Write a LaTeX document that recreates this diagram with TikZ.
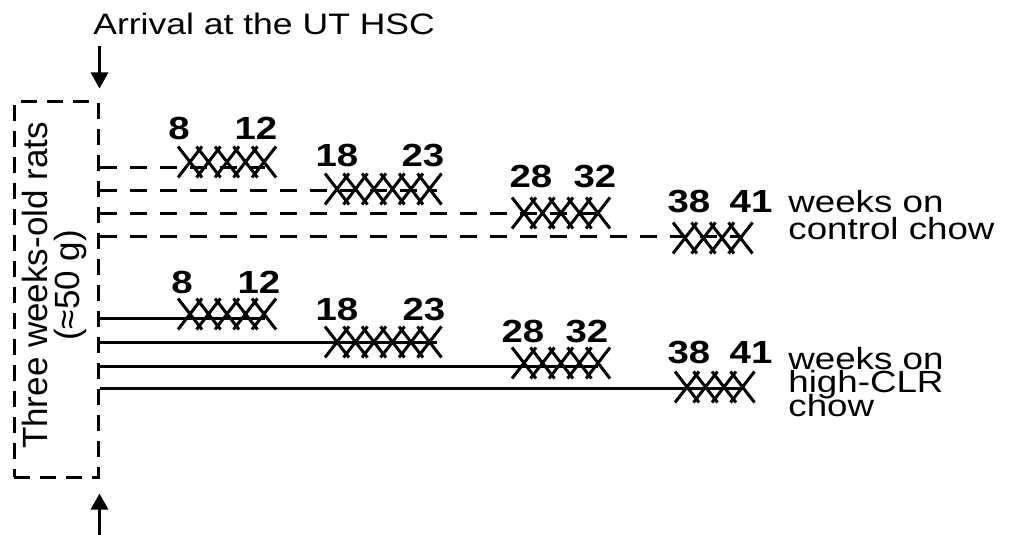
\documentclass[tikz,border=0pt]{standalone}
\usepackage{fontspec}
\setmainfont{Liberation Sans}
\newfontfamily\widesans[FakeStretch=1.2]{Liberation Sans}
\usetikzlibrary{positioning,arrows.meta,calc}
\newcommand\tightlines{\lineskiplimit=-20pt\relax}

\begin{document}
\begin{tikzpicture}[
    x=0.5pt, y=-0.5pt,
    arrival/.style={font=\widesans\fontsize{14.8}{16}\selectfont,
        anchor=base west, inner sep=0pt},
    ratsbox/.style={draw, line width=1.5pt, dash pattern=on 8pt off 5pt,
        minimum width=42pt, minimum height=187.5pt, inner sep=0pt},
    wk/.style={font=\widesans\bfseries\fontsize{16}{18}\selectfont,
        anchor=base, inner sep=0pt},
    diet/.style={font=\widesans\fontsize{15.3}{#1}\selectfont\tightlines,
        align=left, anchor=west, inner sep=0pt},
    diet/.default={13.5},
    arrow/.style={-{Triangle[length=8pt,width=8.5pt]}, line width=1.6pt},
    ctrl/.style={line width=1.5pt, dash pattern=on 8.5pt off 6.5pt},
    chlr/.style={line width=1.5pt},
    xmark/.style={line width=1.5pt}
]
\useasboundingbox (0,0) rectangle (1013,535);

% Arrival and the group of rats
\node[arrival] (arrival) at (93,35) {Arrival at the UT HSC};
\node[ratsbox] (rats) at (56,289.5) {};
\node[rotate=90, font=\fontsize{17.5}{16}\selectfont, align=center]
    (ratstext) at ([xshift=-1pt,yshift=2pt]rats.center)
    {Three weeks-old rats\\(≈50 g)};

% Arrows in and out
\coordinate (bottom) at (0,535);
\draw[arrow, shorten <=5pt, shorten >=6pt] (arrival.south west -| rats.north east)
    -- (rats.north east);
\draw[arrow, shorten >=7.5pt] (rats.south east |- bottom) -- (rats.south east);

% Control chow: dashed lines
\foreach \y/\e [count=\i] in {168/265, 191/437, 214/598, 237/743} {
    \coordinate (cend\i) at (\e,\y);
    \draw[ctrl] (rats.east |- cend\i) -- (cend\i);
}

% High-CLR chow: solid lines
\foreach \y/\e [count=\i] in {318/265, 342/437, 366/598, 388/743} {
    \coordinate (hend\i) at (\e,\y);
    \draw[chlr] (rats.east |- hend\i) -- (hend\i);
}

% Crosses on each line
\foreach \x/\y/\n in {178/162/5, 325/189/6, 512/213/5, 673/238/4,
                      178/314/5, 325/342/6, 512/363/5, 675/387/4} {
    \foreach \k in {1,...,\n}
        \draw[xmark] (\x+12+18.5*\k-18.5,\y) +(-12,-15.5) -- +(12,15.5)
            +(12,-15.5) -- +(-12,15.5);
}

% Weeks on the diets
\foreach \lo/\hi/\xa/\xb/\y in {8/12/179/256/140, 18/23/337/423/167,
                                28/32/531/595/188, 38/41/689/751/213} {
    \node[wk] (c\lo) at (\xa,\y) {\lo};
    \node[wk] (c\hi) at (\xb,\y) {\hi};
}
\foreach \lo/\hi/\xa/\xb/\y in {8/12/182/259/293, 18/23/337/424/320,
                                28/32/523/587/342, 38/41/689/751/363} {
    \node[wk] (h\lo) at (\xa,\y) {\lo};
    \node[wk] (h\hi) at (\xb,\y) {\hi};
}

% Diet notes
\node[diet] (ctrlnote) at (788,215) {weeks on\\control chow};
\node[diet=11.75] (highnote) at (788,382) {weeks on\\high-CLR\\chow};

\end{tikzpicture}
\end{document}
